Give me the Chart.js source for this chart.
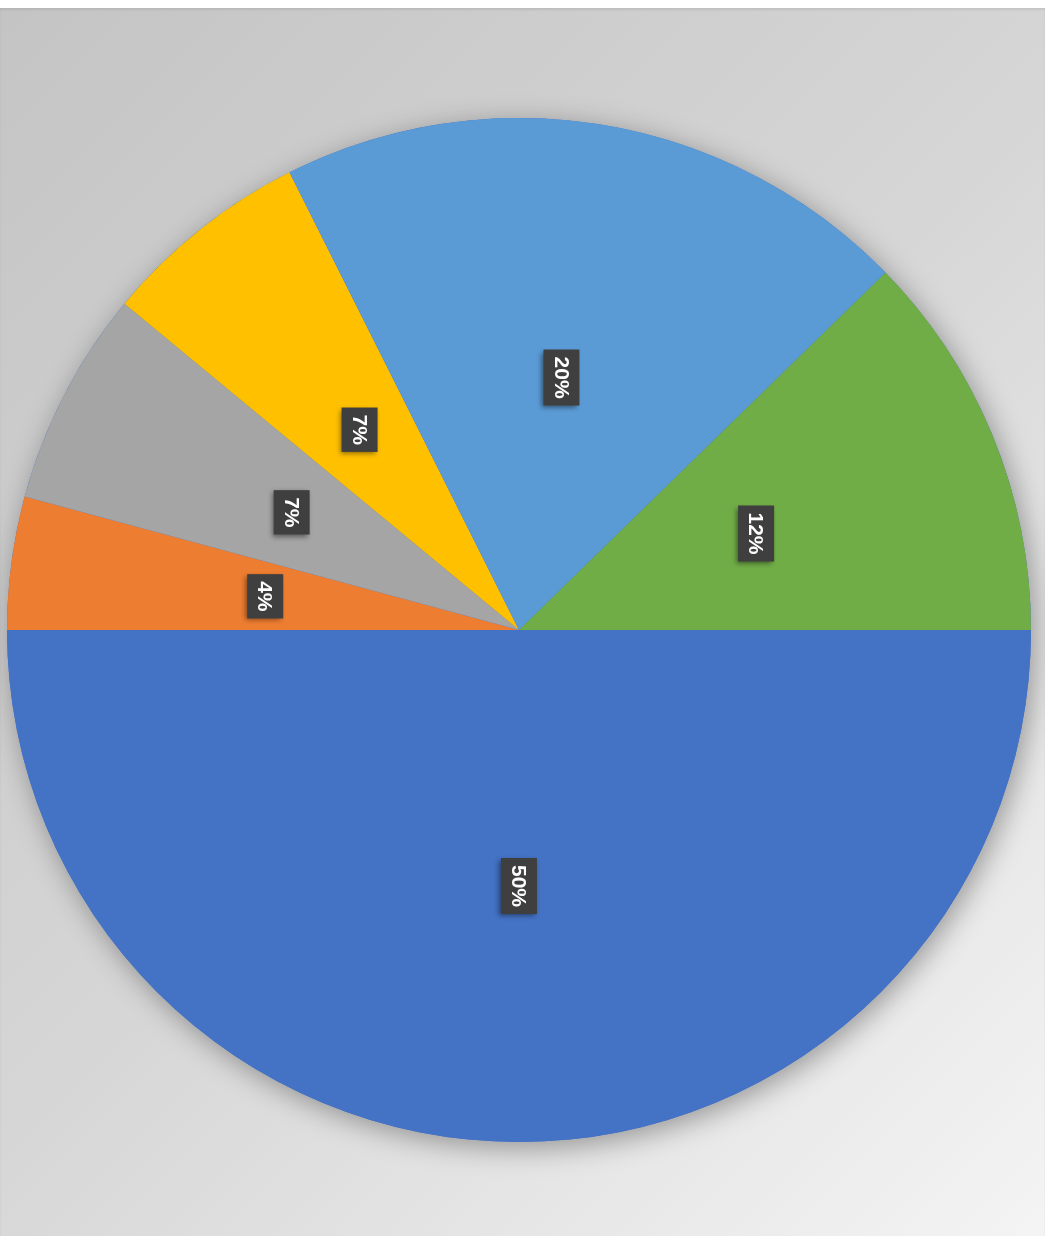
<!DOCTYPE html>
<html>
<head>
<meta charset="utf-8">
<script src="https://cdn.jsdelivr.net/npm/chart.js@4"></script>
<style>
  html, body { margin: 0; padding: 0; background: #fff; }
  #wrap {
    position: absolute; left: 0; top: 8px; width: 1045px; height: 1228px;
    background: linear-gradient(135deg, #c4c4c4 0%, #d6d6d6 50%, #f4f4f4 100%);
    box-shadow: inset 0 2px 2px rgba(0,0,0,0.08);
  }
</style>
</head>
<body>
<div id="wrap"><canvas id="mychart"></canvas></div>
<script>
// slices in clockwise order, starting at 3 o'clock
const categories = ['Category 1', 'Category 2', 'Category 3', 'Category 4', 'Category 5', 'Category 6'];
const values = [50, 4.2, 6.8, 6.6, 20.1, 12.3];
const percentLabels = ['50%', '4%', '7%', '7%', '20%', '12%'];
const colors = ['#4472C4', '#ED7D31', '#A5A5A5', '#FFC000', '#5B9BD5', '#70AD47'];

// soft shadow behind the whole pie
const pieShadow = {
  id: 'pieShadow',
  beforeDatasetsDraw(chart) {
    const arc = chart.getDatasetMeta(0).data[0];
    if (!arc) return;
    const ctx = chart.ctx;
    ctx.save();
    ctx.shadowColor = 'rgba(0,0,0,0.35)';
    ctx.shadowBlur = 28;
    ctx.shadowOffsetX = 4;
    ctx.shadowOffsetY = 6;
    ctx.fillStyle = '#4472C4';
    ctx.beginPath();
    ctx.arc(arc.x, arc.y, arc.outerRadius, 0, Math.PI * 2);
    ctx.fill();
    ctx.restore();
  }
};

// rotated value labels in dark boxes
const boxLabels = {
  id: 'boxLabels',
  afterDatasetsDraw(chart) {
    const ctx = chart.ctx;
    const meta = chart.getDatasetMeta(0);
    meta.data.forEach((arc, i) => {
      const p = arc.getCenterPoint();
      const txt = percentLabels[i];
      ctx.save();
      ctx.translate(p.x, p.y);
      ctx.rotate(Math.PI / 2);
      ctx.font = 'bold 21px "Liberation Sans", Arial, sans-serif';
      const w = ctx.measureText(txt).width + 14;
      const h = 36;
      ctx.shadowColor = 'rgba(0,0,0,0.45)';
      ctx.shadowBlur = 5;
      ctx.shadowOffsetX = -2;
      ctx.shadowOffsetY = 2;
      ctx.fillStyle = '#3f3f3f';
      ctx.fillRect(-w / 2, -h / 2, w, h);
      ctx.shadowColor = 'transparent';
      ctx.fillStyle = '#ffffff';
      ctx.textAlign = 'center';
      ctx.textBaseline = 'middle';
      ctx.fillText(txt, 0, 1);
      ctx.restore();
    });
  }
};

new Chart(document.getElementById('mychart'), {
  type: 'pie',
  data: {
    labels: categories,
    datasets: [{
      data: values,
      backgroundColor: colors,
      borderWidth: 0,
      hoverOffset: 0
    }]
  },
  options: {
    responsive: true,
    maintainAspectRatio: false,
    animation: false,
    rotation: 90,
    layout: { padding: { left: 7, right: 14, top: 110, bottom: 94 } },
    plugins: {
      legend: { display: false },
      tooltip: { enabled: false }
    },
    events: []
  },
  plugins: [pieShadow, boxLabels]
});
</script>
</body>
</html>
